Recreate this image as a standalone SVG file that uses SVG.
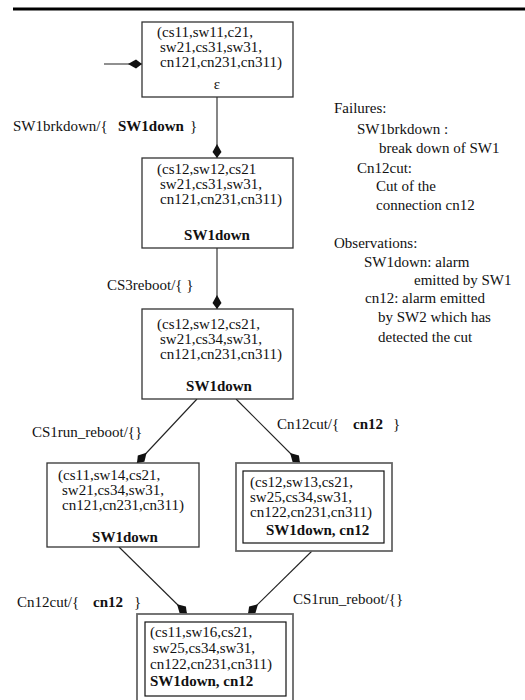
<svg xmlns="http://www.w3.org/2000/svg" width="525" height="700" viewBox="0 0 525 700">
<style>
  text { font-family: "Liberation Serif", "Times New Roman", serif; font-size: 15px; fill: #111; }
  .b { font-weight: bold; }
  .node { fill: #fff; stroke: #333; stroke-width: 1.3; }
  .outer { fill: #fff; stroke: #666; stroke-width: 1.8; }
  .inner { fill: none; stroke: #111; stroke-width: 1.2; }
  .edge { fill: none; stroke: #222; stroke-width: 1.1; marker-end: url(#arr); }
</style>
<defs>
  <marker id="arr" markerUnits="userSpaceOnUse" markerWidth="16" markerHeight="12" refX="14" refY="6" orient="auto" viewBox="0 0 16 12">
    <path d="M0,6 L8,1.5 L14,6 L8,10.5 Z" fill="#111"/>
  </marker>
</defs>
<rect x="0" y="0" width="525" height="700" fill="#fff"/>
<line x1="13" y1="9" x2="525" y2="9" stroke="#000" stroke-width="3"/>

<g id="connectors">
  <line class="edge" x1="104" y1="64" x2="142" y2="64"/>
  <line class="edge" x1="217" y1="97" x2="217" y2="158"/>
  <line class="edge" x1="217" y1="248" x2="217" y2="309"/>
  <line class="edge" x1="197" y1="399" x2="137" y2="463"/>
  <line class="edge" x1="236" y1="399" x2="300" y2="463"/>
  <line class="edge" x1="119" y1="547" x2="187" y2="614"/>
  <line class="edge" x1="312" y1="551" x2="248" y2="614"/>
  <text x="13" y="131">SW1brkdown/{ <tspan class="b" x="118">SW1down</tspan><tspan x="190">}</tspan></text>
  <text x="107" y="290">CS3reboot/{ }</text>
  <text x="32" y="437">CS1run_reboot/{}</text>
  <text x="277" y="429">Cn12cut/{ <tspan class="b" x="353">cn12</tspan><tspan x="393">}</tspan></text>
  <text x="17" y="607">Cn12cut/{ <tspan class="b" x="93">cn12</tspan><tspan x="134">}</tspan></text>
  <text x="293" y="604">CS1run_reboot/{}</text>
</g>

<g id="n1">
  <rect class="node" x="142" y="22" width="151" height="75"/>
  <text x="157" y="37">(cs11,sw11,c21,</text>
  <text x="160" y="52">sw21,cs31,sw31,</text>
  <text x="160" y="67">cn121,cn231,cn311)</text>
  <text x="217" y="89" text-anchor="middle">ε</text>
</g>

<g id="n2">
  <rect class="node" x="142" y="158" width="151" height="90"/>
  <text x="157" y="174">(cs12,sw12,cs21</text>
  <text x="160" y="189">sw21,cs31,sw31,</text>
  <text x="160" y="204">cn121,cn231,cn311)</text>
  <text class="b" x="217" y="240" text-anchor="middle">SW1down</text>
</g>

<g id="n3">
  <rect class="node" x="142" y="309" width="151" height="90"/>
  <text x="157" y="329">(cs12,sw12,cs21,</text>
  <text x="160" y="344">sw21,cs34,sw31,</text>
  <text x="160" y="359">cn121,cn231,cn311)</text>
  <text class="b" x="219" y="391" text-anchor="middle">SW1down</text>
</g>

<g id="n4">
  <rect class="node" x="47" y="463" width="152" height="84"/>
  <text x="58" y="480">(cs11,sw14,cs21,</text>
  <text x="62" y="495">sw21,cs34,sw31,</text>
  <text x="62" y="510">cn121,cn231,cn311)</text>
  <text class="b" x="125" y="542" text-anchor="middle">SW1down</text>
</g>

<g id="n5">
  <rect class="outer" x="236" y="463" width="156" height="88"/>
  <rect class="inner" x="243" y="471" width="141" height="72"/>
  <text x="250" y="487">(cs12,sw13,cs21,</text>
  <text x="250" y="502">sw25,cs34,sw31,</text>
  <text x="250" y="517">cn122,cn231,cn311)</text>
  <text class="b" x="266" y="535">SW1down, cn12</text>
</g>

<g id="n6">
  <rect class="outer" x="137" y="614" width="156" height="90"/>
  <rect class="inner" x="145" y="622" width="141" height="74"/>
  <text x="150" y="637">(cs11,sw16,cs21,</text>
  <text x="153" y="653">sw25,cs34,sw31,</text>
  <text x="150" y="669">cn122,cn231,cn311)</text>
  <text class="b" x="150" y="686">SW1down, cn12</text>
</g>

<g id="legend">
  <text x="334" y="113">Failures:</text>
  <text x="357" y="134">SW1brkdown :</text>
  <text x="379" y="153">break down of SW1</text>
  <text x="357" y="173">Cn12cut:</text>
  <text x="376" y="191">Cut of the</text>
  <text x="376" y="210">connection cn12</text>
  <text x="334" y="248">Observations:</text>
  <text x="364" y="267">SW1down: alarm</text>
  <text x="414" y="285">emitted by SW1</text>
  <text x="365" y="303">cn12: alarm emitted</text>
  <text x="378" y="322">by SW2 which has</text>
  <text x="378" y="342">detected the cut</text>
</g>
</svg>
